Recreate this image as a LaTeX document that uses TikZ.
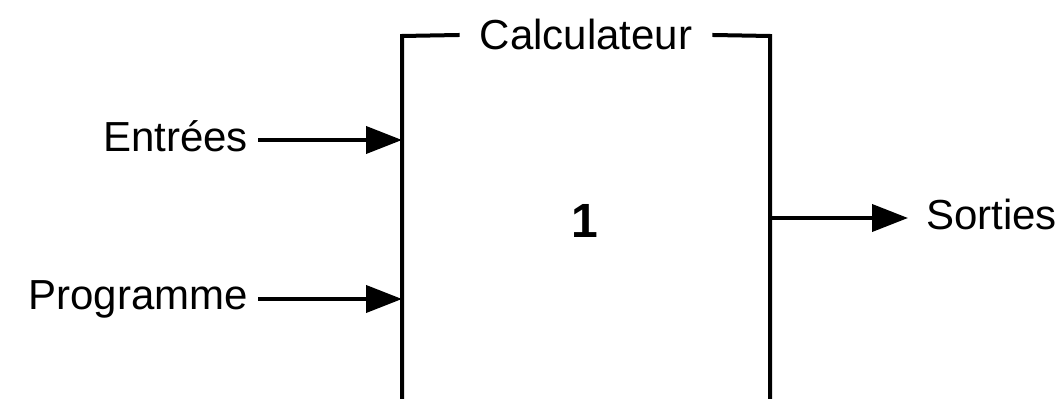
\documentclass[tikz,border=0pt]{standalone}
\usepackage{fontspec}
\setmainfont{Liberation Sans}
\usetikzlibrary{arrows.meta}
\begin{document}
\begin{tikzpicture}[x=1pt,y=1pt,
  lbl/.style={inner sep=0pt, font=\fontsize{42}{48}\selectfont},
  wire/.style={line width=4pt, line cap=butt},
  flow/.style={wire, -{Triangle[length=36pt,width=27pt]}, shorten >=0pt}]
\useasboundingbox[fill=white] (0,0) rectangle (1061,399);
% box corners
\coordinate (tl) at (402,363);
\coordinate (tr) at (770,363);
\coordinate (bl) at (402,-5);
\coordinate (br) at (770,-5);
\node[lbl, anchor=base] (title) at (586,349) {Calculateur};
\draw[wire] (title.west) ++(-20pt,0) coordinate (tgl) -- (tl) -- (bl);
\draw[wire] (title.east) ++(20pt,0) coordinate (tgr) -- (tr) -- (br);
% inputs
\node[lbl, anchor=base east] (ent) at (248,247) {Entrées};
\node[lbl, anchor=base east] (prog) at (248,89) {Programme};
\coordinate (inE) at (402,259);
\coordinate (inP) at (402,100);
\draw[flow] (ent.east |- inE) ++(10pt,0) -- (inE);
\draw[flow] (prog.east |- inP) ++(10pt,0) -- (inP);
% output
\node[lbl, anchor=base west] (sort) at (926,169) {Sorties};
\coordinate (outS) at (770,181);
\draw[flow] (outS) -- ([xshift=-18pt]sort.west |- outS);
% number
\node[inner sep=0pt, font=\fontsize{48}{52}\selectfont\bfseries] (num) at (585,178) {1};
\end{tikzpicture}
\end{document}
